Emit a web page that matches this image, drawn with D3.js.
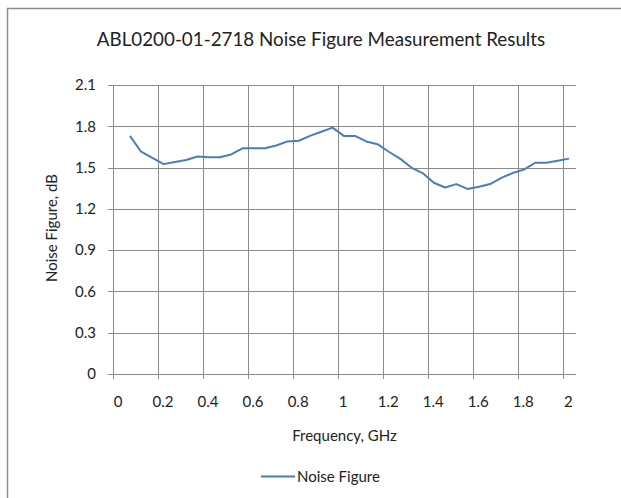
<!DOCTYPE html>
<html>
<head>
<meta charset="utf-8">
<script src="https://cdn.jsdelivr.net/npm/d3@7"></script>
<style>
  body { margin: 0; background: #fff; }
  svg text { font-family: Lato, "Open Sans", sans-serif; fill: #222; }
</style>
</head>
<body>
<div id="chart"></div>
<script>
const frequencies = [0.075, 0.125, 0.175, 0.225, 0.275, 0.325, 0.375, 0.425, 0.475, 0.525,
    0.575, 0.625, 0.675, 0.725, 0.775, 0.825, 0.875, 0.925, 0.975, 1.025,
    1.075, 1.125, 1.175, 1.225, 1.275, 1.325, 1.375, 1.425, 1.475, 1.525,
    1.575, 1.625, 1.675, 1.725, 1.775, 1.825, 1.875, 1.925, 1.975, 2.025];
const noiseFigure = [1.73, 1.615, 1.57, 1.525, 1.54, 1.555, 1.58, 1.575, 1.575, 1.595,
    1.64, 1.64, 1.64, 1.66, 1.69, 1.695, 1.73, 1.76, 1.79, 1.73,
    1.73, 1.69, 1.67, 1.615, 1.565, 1.50, 1.46, 1.39, 1.355, 1.38,
    1.345, 1.36, 1.38, 1.425, 1.46, 1.485, 1.535, 1.535, 1.55, 1.565];
const xTicks = [0, 0.2, 0.4, 0.6, 0.8, 1, 1.2, 1.4, 1.6, 1.8, 2];
const yTicks = [0, 0.3, 0.6, 0.9, 1.2, 1.5, 1.8, 2.1];

const data = frequencies.map((f, i) => ({ f: f, nf: noiseFigure[i] }));

const width = 621, height = 498;
const svg = d3.select("#chart").append("svg")
    .attr("width", width)
    .attr("height", height);

// chart frame (only the left and top edges show in the crop)
svg.append("rect")
    .attr("x", 7.5).attr("y", 8.5)
    .attr("width", 640).attr("height", 520)
    .attr("fill", "none")
    .attr("stroke", "#8c8c8c")
    .attr("stroke-width", 1.5);

const plotLeft = 113, plotRight = 576, plotTop = 85, plotBottom = 374;

const x = d3.scaleLinear().domain([0, 2]).range([plotLeft, 563.3]);
const y = d3.scaleLinear().domain([0, 2.1]).range([plotBottom, plotTop]);

svg.append("text")
    .attr("x", 321).attr("y", 46)
    .attr("text-anchor", "middle")
    .style("font-size", "18.8px")
    .text("ABL0200-01-2718 Noise Figure Measurement Results");

// horizontal gridlines
svg.append("g").selectAll("line")
    .data(yTicks)
    .join("line")
    .attr("x1", plotLeft - 5).attr("x2", plotRight)
    .attr("y1", d => Math.round(y(d)) + 0.5).attr("y2", d => Math.round(y(d)) + 0.5)
    .attr("stroke", "#8a8a8a");

// vertical gridlines
svg.append("g").selectAll("line")
    .data(xTicks)
    .join("line")
    .attr("x1", d => Math.round(x(d)) + 0.5).attr("x2", d => Math.round(x(d)) + 0.5)
    .attr("y1", plotTop).attr("y2", plotBottom + 5)
    .attr("stroke", "#8a8a8a");

// y tick labels
svg.append("g").selectAll("text")
    .data(yTicks)
    .join("text")
    .attr("x", 96)
    .attr("y", d => y(d))
    .attr("dy", "0.35em")
    .attr("text-anchor", "end")
    .style("font-size", "15px")
    .text(d => d3.format(".1~f")(d));

// x tick labels (Excel draws them a few px right of the gridline)
svg.append("g").selectAll("text")
    .data(xTicks)
    .join("text")
    .attr("x", d => x(d) + 5)
    .attr("y", 402)
    .attr("dy", "0.35em")
    .attr("text-anchor", "middle")
    .style("font-size", "15px")
    .text(d => d3.format(".1~f")(d));

svg.append("text")
    .attr("x", 344.5).attr("y", 436)
    .attr("dy", "0.35em")
    .attr("text-anchor", "middle")
    .style("font-size", "15px")
    .text("Frequency, GHz");

svg.append("text")
    .attr("transform", "translate(52,228) rotate(-90)")
    .attr("dy", "0.35em")
    .attr("text-anchor", "middle")
    .style("font-size", "15px")
    .text("Noise Figure, dB");

const line = d3.line()
    .x(d => x(d.f))
    .y(d => y(d.nf));

svg.append("path")
    .datum(data)
    .attr("d", line)
    .attr("fill", "none")
    .attr("stroke", "#4a7ebb")
    .attr("stroke-width", 2)
    .attr("stroke-linejoin", "round");

// legend
const legend = svg.append("g").attr("transform", "translate(261,476.5)");
legend.append("line")
    .attr("x1", 0).attr("x2", 34)
    .attr("stroke", "#4a7ebb")
    .attr("stroke-width", 2);
legend.append("text")
    .attr("x", 36)
    .attr("dy", "0.35em")
    .style("font-size", "15px")
    .text("Noise Figure");
</script>
</body>
</html>
